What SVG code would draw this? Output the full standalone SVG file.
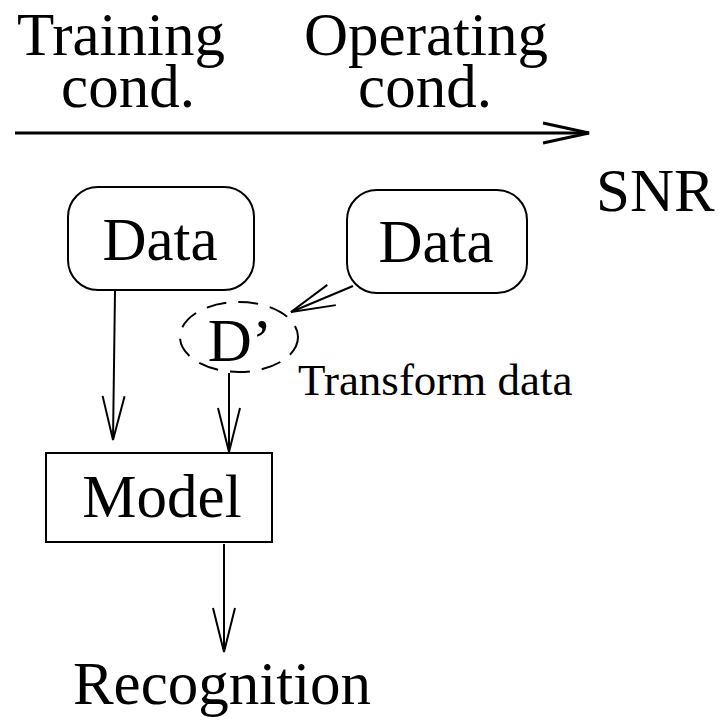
<svg xmlns="http://www.w3.org/2000/svg" width="718" height="722" viewBox="0 0 718 722">
  <style>
    text { font-family: "Liberation Serif", "DejaVu Serif", serif; fill: #000; }
    .big { font-size: 61px; }
    .small { font-size: 45px; }
    .box { fill: none; stroke: #000; stroke-width: 2; }
    .dash { fill: none; stroke: #000; stroke-width: 2; stroke-dasharray: 20 12; }
    .edge { fill: none; stroke: #000; stroke-width: 2; marker-end: url(#open); }
    .axis { fill: none; stroke: #000; stroke-width: 3; marker-end: url(#openBig); }
  </style>
  <defs>
    <!-- open V arrowheads, sized in user units so stroke width does not scale them -->
    <marker id="open" markerUnits="userSpaceOnUse" markerWidth="60" markerHeight="30" refX="0" refY="0" viewBox="-50 -15 60 30" orient="auto" overflow="visible">
      <path d="M-44,-11 L0,0 L-44,11" fill="none" stroke="#000" stroke-width="2"/>
    </marker>
    <marker id="openBig" markerUnits="userSpaceOnUse" markerWidth="60" markerHeight="30" refX="0" refY="0" viewBox="-50 -15 60 30" orient="auto" overflow="visible">
      <path d="M-46,-10 L0,0 L-46,10" fill="none" stroke="#000" stroke-width="3"/>
    </marker>
  </defs>

  <!-- header labels and SNR axis -->
  <g id="axis">
    <text class="big" x="121" y="55" text-anchor="middle">Training</text>
    <text class="big" x="128" y="107" text-anchor="middle">cond.</text>
    <text class="big" x="426" y="55" text-anchor="middle">Operating</text>
    <text class="big" x="425" y="107" text-anchor="middle">cond.</text>
    <line class="axis" x1="15" y1="133" x2="589" y2="133"/>
    <text class="big" x="596" y="211">SNR</text>
  </g>

  <g id="data-train">
    <rect class="box" x="68" y="187" width="186" height="103" rx="30" ry="30"/>
    <text class="big" x="160" y="260" text-anchor="middle">Data</text>
  </g>

  <g id="data-oper">
    <rect class="box" x="347" y="190" width="180" height="103" rx="30" ry="30"/>
    <text class="big" x="436" y="262" text-anchor="middle">Data</text>
  </g>

  <g id="transform">
    <ellipse class="dash" cx="239" cy="337" rx="59" ry="35"/>
    <text class="big" x="240" y="361" text-anchor="middle">D’</text>
    <text class="small" x="298" y="395">Transform data</text>
  </g>

  <g id="model">
    <rect class="box" x="46" y="453" width="226" height="89"/>
    <text class="big" x="162" y="517" text-anchor="middle">Model</text>
  </g>

  <g id="recognition">
    <text class="big" x="222" y="704" text-anchor="middle">Recognition</text>
  </g>

  <g id="connectors">
    <line class="edge" x1="115" y1="291" x2="113" y2="440"/>
    <line class="edge" x1="353" y1="286" x2="291" y2="312"/>
    <line class="edge" x1="229" y1="373" x2="229" y2="452"/>
    <line class="edge" x1="224" y1="544" x2="224" y2="652"/>
  </g>
</svg>
